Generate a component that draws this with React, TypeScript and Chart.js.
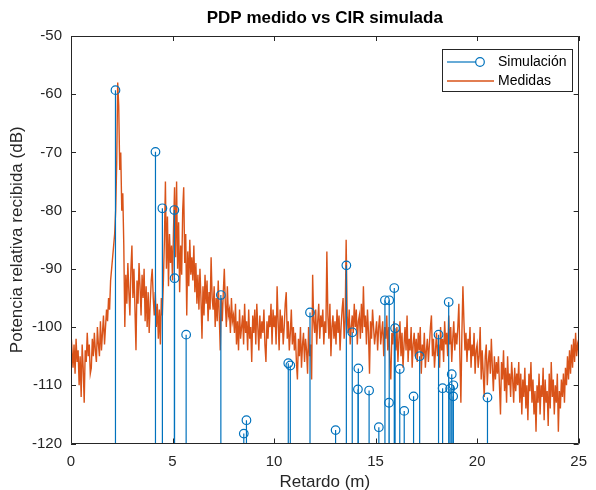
import React, { useEffect, useRef } from 'react';
import { Chart, registerables } from 'chart.js';

Chart.register(...registerables);

const TITLE = 'PDP medido vs CIR simulada';
const X_LABEL = 'Retardo (m)';
const Y_LABEL = 'Potencia relativa recibida (dB)';
const LEGEND_LABELS = ['Simulación', 'Medidas'];

const X_MIN = 0;
const X_MAX = 25;
const X_STEP = 5;
const Y_MIN = -120;
const Y_MAX = -50;
const Y_STEP = 10;

// Simulated CIR (stems)
const STEM_X = [2.19, 4.16, 4.5, 5.09, 5.1, 5.67, 7.38, 8.51, 8.64, 10.7, 10.8, 11.77, 13.03, 13.56, 13.85, 14.15, 14.13, 14.68, 15.16, 15.46, 15.67, 15.66, 15.92, 15.96, 16.19, 16.41, 16.87, 17.17, 18.1, 18.3, 18.6, 18.75, 18.67, 18.83, 18.82, 20.51];
const STEM_Y = [-59.3, -69.9, -79.6, -79.9, -91.6, -101.3, -94.5, -118.3, -116.0, -106.2, -106.6, -97.5, -117.7, -89.4, -100.9, -107.1, -110.7, -110.9, -117.2, -95.4, -95.4, -113.0, -93.3, -100.2, -107.2, -114.4, -111.9, -105.0, -101.3, -110.5, -95.7, -108.1, -110.6, -110.0, -111.9, -112.1];

// Measured PDP, sampled every 0.05 m from 0 to 25 m
const MEAS_STEP = 0.05;
const MEAS_Y = [
  -101, -104, -107, -103, -108, -102, -106, -104, -110, -105, -112, -103, -107, -113, -104, -106, -101, -105, -103, -108,
  -107, -102, -105, -101, -104, -106, -100, -103, -105, -99, -104, -101, -98, -103, -100, -97, -99, -95, -97, -92,
  -90, -88, -86, -84, -80, -72, -58, -62, -73, -70, -80, -77, -86, -100, -91, -96, -89, -94, -98, -90,
  -86, -95, -90, -97, -104, -92, -96, -89, -93, -98, -91, -95, -90, -99, -93, -100, -94, -101, -96, -92,
  -90, -95, -98, -94, -100, -96, -102, -97, -103, -95, -98, -92, -85, -75, -90, -81, -93, -84, -89, -86,
  -92, -83, -76, -88, -75, -90, -82, -94, -86, -91, -80, -76, -89, -84, -98, -87, -93, -85, -91, -88,
  -92, -86, -94, -89, -96, -91, -97, -90, -95, -102, -93, -98, -91, -96, -92, -99, -94, -97, -88, -95,
  -97, -93, -100, -95, -99, -92, -98, -104, -95, -99, -94, -90, -96, -100, -93, -98, -97, -101, -95, -99,
  -98, -101, -96, -103, -99, -104, -97, -102, -100, -98, -103, -96, -101, -99, -104, -97, -102, -100, -106, -98,
  -101, -97, -103, -96, -100, -104, -98, -102, -99, -101, -97, -103, -106, -99, -102, -98, -100, -96, -103, -97,
  -100, -98, -103, -93, -99, -104, -97, -101, -98, -103, -100, -96, -94, -102, -99, -104, -101, -97, -103, -100,
  -104, -101, -106, -109, -102, -105, -100, -107, -103, -101, -106, -102, -104, -108, -100, -105, -103, -109, -91, -99,
  -101, -97, -103, -99, -96, -102, -98, -100, -97, -103, -99, -101, -87, -98, -102, -96, -105, -100, -98, -102,
  -99, -103, -97, -101, -98, -104, -100, -97, -95, -102, -99, -85, -98, -101, -97, -103, -100, -98, -101, -96,
  -100, -97, -103, -99, -98, -102, -96, -101, -93, -100, -98, -103, -97, -101, -108, -99, -102, -97, -100, -103,
  -101, -99, -104, -100, -98, -103, -101, -99, -105, -100, -102, -98, -104, -100, -106, -109, -101, -103, -99, -102,
  -104, -100, -106, -102, -99, -105, -101, -107, -103, -100, -104, -98, -106, -102, -104, -100, -107, -103, -101, -105,
  -102, -106, -101, -104, -100, -108, -103, -105, -101, -107, -104, -102, -106, -103, -100, -98, -105, -102, -107, -104,
  -101, -105, -103, -107, -100, -104, -102, -106, -99, -103, -101, -105, -98, -103, -100, -106, -102, -99, -104, -101,
  -103, -100, -96, -105, -113, -101, -93, -99, -104, -101, -106, -102, -104, -100, -107, -103, -105, -101, -108, -104,
  -103, -107, -105, -100, -109, -104, -108, -112, -105, -103, -110, -106, -104, -108, -102, -107, -111, -105, -109, -106,
  -108, -105, -110, -115, -106, -109, -104, -111, -107, -113, -105, -110, -108, -112, -106, -109, -113, -107, -111, -108,
  -110, -106, -113, -108, -115, -109, -112, -107, -114, -110, -116, -108, -111, -106, -113, -109, -115, -111, -118, -110,
  -113, -108, -115, -110, -112, -107, -116, -109, -113, -111, -117, -108, -114, -106, -112, -109, -115, -110, -113, -108,
  -118, -111, -114, -109, -112, -108, -113, -107, -110, -105, -109, -104, -108, -103, -107, -102, -106, -101, -105, -103,
  -104,
];

const BLUE = '#0072BD';
const ORANGE = '#D95319';
const AXIS_COLOR = '#262626';
const FONT = '"Liberation Sans", Arial, Helvetica, sans-serif';

const framePlugin = {
  id: 'matlabFrame',
  afterDraw(chart: any) {
    const { ctx, chartArea } = chart;
    const { left, right, top, bottom } = chartArea;
    const xs = chart.scales.x;
    const ys = chart.scales.y;
    ctx.save();
    ctx.strokeStyle = AXIS_COLOR;
    ctx.lineWidth = 1;
    ctx.beginPath();
    ctx.rect(Math.round(left) + 0.5, Math.round(top) + 0.5, Math.round(right - left) - 1, Math.round(bottom - top) - 1);
    ctx.stroke();
    const tl = 5;
    ctx.beginPath();
    for (let v = X_MIN; v <= X_MAX; v += X_STEP) {
      const px = Math.round(xs.getPixelForValue(v)) + 0.5;
      ctx.moveTo(px, bottom);
      ctx.lineTo(px, bottom - tl);
      ctx.moveTo(px, top);
      ctx.lineTo(px, top + tl);
    }
    for (let v = Y_MIN; v <= Y_MAX; v += Y_STEP) {
      const py = Math.round(ys.getPixelForValue(v)) + 0.5;
      ctx.moveTo(left, py);
      ctx.lineTo(left + tl, py);
      ctx.moveTo(right, py);
      ctx.lineTo(right - tl, py);
    }
    ctx.stroke();

    // Title
    const cx = (left + right) / 2;
    ctx.fillStyle = '#000';
    ctx.font = `bold 17px ${FONT}`;
    ctx.textAlign = 'center';
    ctx.textBaseline = 'middle';
    ctx.fillText(TITLE, cx, 18);

    // Axis labels
    ctx.fillStyle = AXIS_COLOR;
    ctx.font = `17px ${FONT}`;
    ctx.fillText(X_LABEL, cx, 482);
    ctx.save();
    ctx.translate(17, (top + bottom) / 2);
    ctx.rotate(-Math.PI / 2);
    ctx.fillText(Y_LABEL, 0, 0);
    ctx.restore();

    // Legend
    const lx = 442.5, ly = 49.5, lw = 130, lh = 42;
    ctx.fillStyle = '#fff';
    ctx.fillRect(lx, ly, lw, lh);
    ctx.strokeStyle = AXIS_COLOR;
    ctx.lineWidth = 1;
    ctx.strokeRect(lx, ly, lw, lh);
    ctx.lineWidth = 1.2;
    ctx.strokeStyle = BLUE;
    ctx.beginPath();
    ctx.moveTo(447, 62);
    ctx.lineTo(476, 62);
    ctx.stroke();
    ctx.beginPath();
    ctx.arc(480, 62, 4.3, 0, Math.PI * 2);
    ctx.stroke();
    ctx.strokeStyle = ORANGE;
    ctx.lineWidth = 1.4;
    ctx.beginPath();
    ctx.moveTo(447, 81);
    ctx.lineTo(494, 81);
    ctx.stroke();
    ctx.fillStyle = '#000';
    ctx.font = `14px ${FONT}`;
    ctx.textAlign = 'left';
    ctx.fillText(LEGEND_LABELS[0], 498, 62);
    ctx.fillText(LEGEND_LABELS[1], 498, 81);
    ctx.restore();
  },
};

export default function App() {
  const canvasRef = useRef<HTMLCanvasElement | null>(null);

  useEffect(() => {
    const canvas = canvasRef.current;
    if (!canvas) return;
    Chart.defaults.font.family = FONT;

    const stemData: any[] = [];
    STEM_X.forEach((x, i) => {
      stemData.push({ x, y: Y_MIN });
      stemData.push({ x, y: STEM_Y[i] });
      stemData.push({ x, y: null });
    });
    const measData = MEAS_Y.map((y, i) => ({ x: +(i * MEAS_STEP).toFixed(2), y }));

    const chart = new Chart(canvas, {
      type: 'line',
      data: {
        datasets: [
          {
            label: LEGEND_LABELS[0],
            data: stemData,
            borderColor: BLUE,
            borderWidth: 1.2,
            spanGaps: false,
            pointRadius: (c: any) => (c.dataIndex % 3 === 1 ? 4.3 : 0),
            pointHoverRadius: (c: any) => (c.dataIndex % 3 === 1 ? 4.3 : 0),
            pointBorderColor: BLUE,
            pointBackgroundColor: 'rgba(0,0,0,0)',
            pointBorderWidth: 1.2,
            tension: 0,
          },
          {
            label: LEGEND_LABELS[1],
            data: measData,
            borderColor: ORANGE,
            borderWidth: 1.4,
            pointRadius: 0,
            tension: 0,
          },
        ],
      },
      options: {
        responsive: false,
        animation: false,
        events: [],
        layout: { padding: { top: 36, right: 11, left: 0, bottom: 0 } },
        plugins: {
          legend: { display: false },
          title: { display: false },
          tooltip: { enabled: false },
        },
        scales: {
          x: {
            type: 'linear',
            min: X_MIN,
            max: X_MAX,
            ticks: { stepSize: X_STEP, color: AXIS_COLOR, font: { size: 15 }, padding: 9, maxRotation: 0 },
            grid: { display: false, drawTicks: false },
            border: { display: false },
            afterFit: (s: any) => { s.height = 46.5; },
          },
          y: {
            type: 'linear',
            min: Y_MIN,
            max: Y_MAX,
            ticks: { stepSize: Y_STEP, color: AXIS_COLOR, font: { size: 15 }, padding: 9 },
            grid: { display: false, drawTicks: false },
            border: { display: false },
            afterFit: (s: any) => { s.width = 71; },
          },
        },
      },
      plugins: [framePlugin],
    });
    return () => chart.destroy();
  }, []);

  return (
    <div style={{ position: 'absolute', left: 0, top: 0, width: 596, height: 490, background: '#fff' }}>
      <canvas ref={canvasRef} width={596} height={490} style={{ display: 'block' }} />
    </div>
  );
}
